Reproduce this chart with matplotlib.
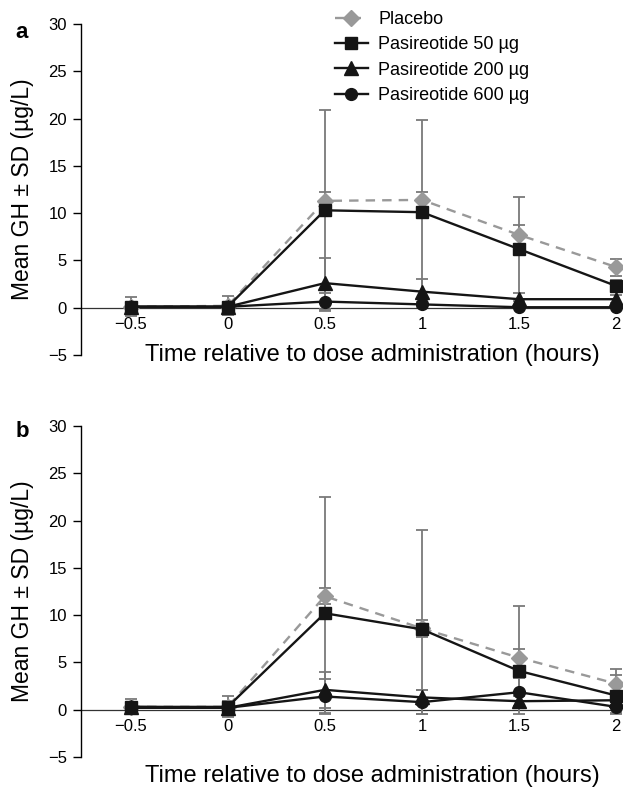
import matplotlib
matplotlib.use("Agg")
import matplotlib.pyplot as plt
from matplotlib.lines import Line2D

plt.rcParams['font.family'] = ['Liberation Sans', 'DejaVu Sans']

times = [-0.5, 0, 0.5, 1, 1.5, 2]
xtick_labels = ['\u22120.5', '0', '0.5', '1', '1.5', '2']
ytick_labels = ['\u22125', '0', '5', '10', '15', '20', '25', '30']

labels = ['Placebo', 'Pasireotide 50 \u00b5g', 'Pasireotide 200 \u00b5g', 'Pasireotide 600 \u00b5g']

# panel a (mean, sd)
placebo_a = [0.1, 0.2, 11.3, 11.4, 7.7, 4.3]
placebo_a_sd = [1.0, 1.0, 0.9, 0.8, 1.0, 0.9]
p50_a = [0.1, 0.1, 10.3, 10.1, 6.2, 2.3]
p50_a_sd = [0.3, 0.3, 10.6, 9.7, 5.5, 0.6]
p200_a = [0.1, 0.1, 2.6, 1.7, 0.9, 0.9]
p200_a_sd = [0.2, 0.2, 2.7, 1.3, 0.65, 0.4]
p600_a = [0.1, 0.1, 0.65, 0.35, 0.05, 0.05]
p600_a_sd = [0.1, 0.1, 0.9, 0.3, 0.05, 0.05]

# panel b (mean, sd); lower bars of the 50 ug group stop near -0.5
placebo_b = [0.3, 0.3, 12.0, 8.6, 5.5, 2.75]
placebo_b_sd = [0.8, 1.1, 0.85, 0.9, 0.95, 1.55]
p50_b = [0.3, 0.3, 10.2, 8.5, 4.1, 1.5]
p50_b_sd = [0.3, 0.6, 12.25, 10.5, 6.85, 2.2]
p50_b_sd_low = [0.3, 0.6, 10.7, 9.0, 4.6, 2.0]
p200_b = [0.3, 0.2, 2.1, 1.3, 0.9, 1.0]
p200_b_sd = [0.2, 0.4, 1.9, 0.8, 0.6, 0.5]
p600_b = [0.2, 0.2, 1.4, 0.8, 1.85, 0.3]
p600_b_sd = [0.2, 0.3, 1.8, 1.3, 1.5, 0.6]

W, H = 627, 805
fig = plt.figure(figsize=(W / 100, H / 100), dpi=100)

GRAY = '#999999'
BLACK = '#151515'
ERR = '#7a7a7a'
styles = [
    dict(color=GRAY, ls=(0, (4, 3)), marker='D', ms=8),
    dict(color=BLACK, ls='-', marker='s', ms=9),
    dict(color=BLACK, ls='-', marker='^', ms=9.5),
    dict(color=BLACK, ls='-', marker='o', ms=8.5),
]


def px_axes(left, top, right, bottom):
    return fig.add_axes([left / W, 1 - bottom / H, (right - left) / W, (bottom - top) / H])


def draw_panel(ax, means, errs):
    for m, e in zip(means, errs):
        ax.errorbar(times, m, yerr=e, fmt='none', ecolor=ERR, elinewidth=1.3,
                    capsize=4, capthick=1.3, zorder=2)
    ax.axhline(0, color='#333333', lw=0.9, zorder=1)
    for m, st in zip(means, styles):
        ax.plot(times, m, color=st['color'], ls=st['ls'], lw=1.7, marker=st['marker'],
                ms=st['ms'], mfc=st['color'], mec=st['color'], zorder=3)
    ax.set_xlim(-0.755, 2.03)
    ax.set_ylim(-5, 30)
    ax.set_yticks(range(-5, 31, 5))
    ax.set_yticklabels(ytick_labels)
    ax.set_xticks(times)
    ax.set_xticklabels(xtick_labels)
    for side in ['top', 'right', 'bottom']:
        ax.spines[side].set_visible(False)
    ax.spines['left'].set_linewidth(1.0)
    ax.tick_params(axis='y', direction='out', length=6, width=1.0, labelsize=12, pad=4)
    ax.tick_params(axis='x', length=0, labelsize=12, pad=7)
    ax.spines['bottom'].set_position(('data', 0))
    ax.set_ylabel('Mean GH \u00b1 SD (\u00b5g/L)', fontsize=16.5)
    ax.yaxis.set_label_coords(-0.086, 0.5)


ax_a = px_axes(81, 24, 622, 355)
draw_panel(ax_a, [placebo_a, p50_a, p200_a, p600_a],
           [placebo_a_sd, p50_a_sd, p200_a_sd, p600_a_sd])
ax_b = px_axes(81, 426, 622, 757)
draw_panel(ax_b, [placebo_b, p50_b, p200_b, p600_b],
           [placebo_b_sd, [p50_b_sd_low, p50_b_sd], p200_b_sd, p600_b_sd])

fig.text(372 / W, 1 - 355 / H, 'Time relative to dose administration (hours)',
         ha='center', va='center', fontsize=17)
fig.text(372 / W, 1 - 776 / H, 'Time relative to dose administration (hours)',
         ha='center', va='center', fontsize=17)
fig.text(22 / W, 1 - 33 / H, 'a', fontsize=16, fontweight='bold', ha='center', va='center')
fig.text(22 / W, 1 - 431 / H, 'b', fontsize=16, fontweight='bold', ha='center', va='center')

handles = [Line2D([], [], color=st['color'], ls=st['ls'], lw=1.7, marker=st['marker'],
                  ms=st['ms'], mfc=st['color'], mec=st['color']) for st in styles]
fig.legend(handles, labels, loc='upper left', bbox_to_anchor=(335 / W, 1 - 11 / H),
           bbox_transform=fig.transFigure, frameon=False, fontsize=13,
           handlelength=1.8, handletextpad=0.6, labelspacing=0.46,
           borderpad=0, borderaxespad=0)

fig.savefig('out.png', dpi=100)
